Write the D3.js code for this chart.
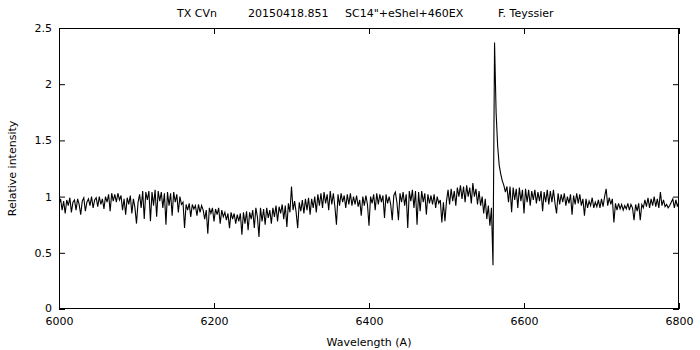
<!DOCTYPE html>
<html>
<head>
<meta charset="utf-8">
<script src="https://cdn.jsdelivr.net/npm/d3@7"></script>
<style>
  html, body { margin: 0; padding: 0; background: #fff; }
  svg { display: block; }
  text { font-family: "DejaVu Sans", Verdana, sans-serif; fill: #000; }
</style>
</head>
<body>
<svg id="chart" width="700" height="350"></svg>
<script>
// ---- Data ----
const titleParts = ["TX CVn", "20150418.851", "SC14\"+eShel+460EX", "F. Teyssier"];
const xTickValues = [6000, 6200, 6400, 6600, 6800];
const yTickValues = [0, 0.5, 1, 1.5, 2, 2.5];
const yTickLabels = ["0", "0.5", "1", "1.5", "2", "2.5"];
const xLabel = "Wavelength (A)";
const yLabel = "Relative intensity";

// wavelength grid: 6000 .. 6800 A, one sample every 2 A
const lambdaStart = 6000;
const lambdaStep = 2;

// relative intensity at each grid wavelength (rows of 10 samples = 20 A)
const intensity = [
  0.93, 0.98, 0.88, 0.96, 0.85, 0.97, 0.92, 0.99, 0.86, 0.95, // 6000
  0.97, 0.88, 0.98, 0.93, 0.84, 0.96, 0.99, 0.87, 0.95, 0.98, // 6020
  0.92, 1.00, 0.90, 0.97, 0.99, 0.91, 1.00, 0.93, 0.98, 0.89, // 6040
  1.00, 0.95, 1.02, 0.87, 1.03, 0.96, 1.02, 0.95, 1.03, 0.97, // 6060
  1.01, 0.88, 0.98, 0.84, 0.99, 0.93, 1.01, 0.85, 0.98, 0.90, // 6080
  0.76, 0.95, 1.02, 0.90, 1.05, 0.80, 1.04, 0.97, 1.05, 0.78, // 6100
  1.04, 0.92, 1.06, 0.82, 1.05, 0.96, 1.04, 0.90, 1.03, 0.75, // 6120
  1.04, 0.92, 1.03, 0.83, 1.04, 0.95, 1.02, 0.86, 1.00, 0.93, // 6140
  0.95, 0.72, 0.93, 0.88, 0.94, 0.82, 0.93, 0.89, 0.92, 0.83, // 6160
  0.93, 0.86, 0.92, 0.88, 0.80, 0.88, 0.67, 0.90, 0.85, 0.90, // 6180
  0.78, 0.89, 0.84, 0.90, 0.76, 0.88, 0.82, 0.86, 0.79, 0.85, // 6200
  0.72, 0.86, 0.80, 0.85, 0.76, 0.84, 0.78, 0.85, 0.66, 0.86, // 6220
  0.76, 0.87, 0.70, 0.86, 0.80, 0.88, 0.72, 0.90, 0.82, 0.64, // 6240
  0.90, 0.78, 0.89, 0.75, 0.90, 0.81, 0.88, 0.76, 0.90, 0.82, // 6260
  0.92, 0.78, 0.91, 0.85, 0.93, 0.80, 0.92, 0.73, 0.94, 0.86, // 6280
  1.09, 0.88, 0.96, 0.86, 0.72, 0.95, 0.87, 0.97, 0.85, 0.98, // 6300
  0.88, 0.99, 0.84, 0.98, 0.90, 1.00, 0.86, 1.02, 0.92, 1.03, // 6320
  0.90, 1.04, 0.94, 1.02, 0.88, 1.05, 0.93, 1.03, 0.91, 0.75, // 6340
  1.02, 0.92, 1.03, 0.95, 1.01, 0.90, 1.02, 0.93, 1.03, 0.92, // 6360
  1.00, 0.93, 1.01, 0.91, 0.97, 0.83, 1.00, 0.92, 1.01, 0.93, // 6380
  0.74, 1.00, 0.94, 1.02, 0.88, 1.03, 0.93, 1.02, 0.95, 1.01, // 6400
  0.81, 1.02, 0.94, 1.00, 0.93, 0.79, 1.01, 1.04, 0.95, 0.79, // 6420
  1.03, 0.95, 1.04, 0.92, 1.02, 0.72, 1.05, 0.96, 1.06, 0.90, // 6440
  1.05, 0.75, 1.04, 0.87, 1.05, 0.95, 1.03, 0.84, 1.02, 0.94, // 6460
  1.01, 0.93, 1.02, 0.90, 1.00, 0.94, 0.97, 0.77, 0.95, 0.78, // 6480
  0.96, 1.06, 0.93, 1.07, 0.96, 1.05, 0.92, 1.08, 1.00, 1.10, // 6500
  0.98, 1.09, 0.95, 1.10, 1.00, 1.08, 0.94, 1.12, 1.00, 1.07, // 6520
  0.93, 1.05, 0.92, 1.00, 0.85, 0.98, 0.80, 0.92, 0.74, 0.90, // 6540
  0.39, 2.37, 1.75, 1.45, 1.28, 1.20, 1.14, 1.10, 1.04, 1.09, // 6560
  0.95, 1.09, 0.86, 1.08, 0.97, 1.07, 0.90, 1.08, 0.96, 1.06, // 6580
  0.85, 1.07, 0.95, 1.06, 0.92, 1.05, 0.97, 1.06, 0.94, 1.04, // 6600
  0.96, 1.05, 0.87, 1.04, 0.95, 1.06, 0.93, 1.05, 0.95, 1.06, // 6620
  0.94, 0.85, 1.03, 0.93, 1.02, 0.95, 1.03, 0.92, 1.00, 0.94, // 6640
  1.02, 0.84, 1.01, 0.93, 1.03, 0.94, 1.02, 0.92, 0.98, 0.83, // 6660
  0.98, 0.90, 0.96, 0.92, 0.99, 0.90, 0.95, 0.91, 0.97, 0.90, // 6680
  0.98, 0.91, 1.00, 1.07, 0.92, 0.99, 0.93, 0.98, 0.77, 0.94, // 6700
  0.88, 0.94, 0.89, 0.93, 0.88, 0.92, 0.89, 0.94, 0.88, 0.93, // 6720
  0.90, 0.79, 0.93, 0.87, 0.94, 0.79, 0.93, 0.90, 0.97, 0.91, // 6740
  0.99, 0.90, 0.98, 0.92, 1.00, 0.91, 0.98, 0.90, 1.04, 0.92, // 6760
  0.97, 0.91, 0.93, 0.90, 0.92, 0.95, 0.98, 0.90, 0.97, 0.91, // 6780
  0.96                                                        // 6800
];

// ---- Layout ----
const W = 700, H = 350;
const margin = { left: 59, right: 21, top: 28, bottom: 41 };
const plotW = W - margin.left - margin.right;
const plotH = H - margin.top - margin.bottom;

const svg = d3.select("#chart");
svg.append("rect").attr("width", W).attr("height", H).attr("fill", "#fff");

const x = d3.scaleLinear().domain([6000, 6800]).range([margin.left, margin.left + plotW]);
const y = d3.scaleLinear().domain([0, 2.5]).range([margin.top + plotH, margin.top]);

const data = intensity.map((v, i) => ({ w: lambdaStart + i * lambdaStep, v }));

// clip
svg.append("clipPath").attr("id", "clip").append("rect")
  .attr("x", margin.left).attr("y", margin.top).attr("width", plotW).attr("height", plotH);

// spectrum
const line = d3.line().x(d => x(d.w)).y(d => y(d.v));
svg.append("path").datum(data)
  .attr("clip-path", "url(#clip)")
  .attr("fill", "none").attr("stroke", "#000").attr("stroke-width", 1.1)
  .attr("stroke-linejoin", "miter")
  .attr("d", line);

// axes (ticks inward, mirrored)
const tickLen = 6;
const fmtY = d => yTickLabels[yTickValues.indexOf(d)];

const gx = svg.append("g").attr("transform", `translate(0,${margin.top + plotH})`)
  .call(d3.axisBottom(x).tickValues(xTickValues).tickFormat(d3.format("d"))
    .tickSizeInner(-tickLen).tickSizeOuter(0).tickPadding(8));
const gxTop = svg.append("g").attr("transform", `translate(0,${margin.top})`)
  .call(d3.axisTop(x).tickValues(xTickValues).tickFormat("")
    .tickSizeInner(-tickLen).tickSizeOuter(0));
const gy = svg.append("g").attr("transform", `translate(${margin.left},0)`)
  .call(d3.axisLeft(y).tickValues(yTickValues).tickFormat(fmtY)
    .tickSizeInner(-tickLen).tickSizeOuter(0).tickPadding(7));
const gyR = svg.append("g").attr("transform", `translate(${margin.left + plotW},0)`)
  .call(d3.axisRight(y).tickValues(yTickValues).tickFormat("")
    .tickSizeInner(-tickLen).tickSizeOuter(0));

[gx, gxTop, gy, gyR].forEach(g => {
  g.select(".domain").remove();
  g.selectAll(".tick line").attr("stroke", "#000").attr("stroke-width", 1);
  g.selectAll("text").attr("font-family", "DejaVu Sans, Verdana, sans-serif")
    .attr("font-size", 11).attr("fill", "#000");
});
// lift the "0" label a touch so it does not collide with "6000"
gy.selectAll(".tick text").filter(d => d === 0).attr("dy", "0.2em");

// frame
svg.append("rect")
  .attr("x", margin.left + 0.5).attr("y", margin.top + 0.5)
  .attr("width", plotW - 1).attr("height", plotH - 1)
  .attr("fill", "none").attr("stroke", "#000").attr("stroke-width", 1);

// axis titles
svg.append("text").attr("x", x(6400)).attr("y", 346)
  .attr("text-anchor", "middle").attr("font-size", 11).text(xLabel);
svg.append("text")
  .attr("transform", `translate(16,${margin.top + plotH / 2}) rotate(-90)`)
  .attr("text-anchor", "middle").attr("font-size", 11).text(yLabel);

// title
const titleX = [177, 248, 345, 498];
titleParts.forEach((t, i) => {
  svg.append("text").attr("x", titleX[i]).attr("y", 17)
    .attr("font-size", 11).text(t);
});
</script>
</body>
</html>
